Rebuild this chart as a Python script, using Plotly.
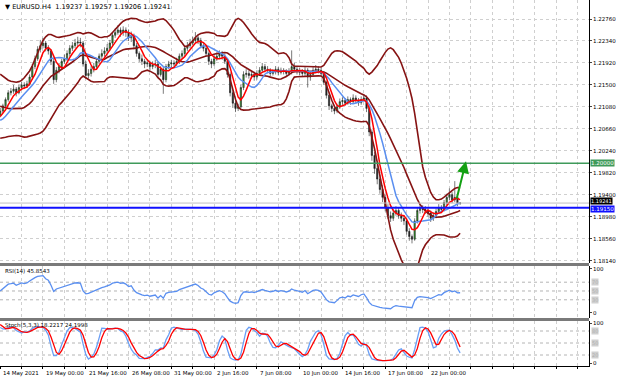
import numpy as np
import pandas as pd
import plotly.graph_objects as go

# ---------------- data (pips above 1.18000) ----------------
BASE = 1.18
PRE_CLOSE = [230, 222, 215, 208, 205, 212, 210, 205, 202, 198, 205, 200,
             202, 212, 232, 250, 262, 258, 262, 268, 280, 320, 338, 345,
             342, 348, 340, 345, 342, 348, 345, 345, 350, 352, 348, 345,
             342, 340, 338, 310, 290, 282, 275, 270, 272, 278, 282, 285,
             288, 292]

CLOSE = [300, 310, 322, 335, 338, 342, 335, 345, 350, 348,
         352, 365, 385, 400, 418, 425, 430, 420, 415, 395,
         360, 378, 385, 395, 400, 410, 420, 425, 430, 432,
         430, 390, 368, 372, 380, 385, 395, 405, 410, 415,
         420, 430, 445, 450, 455, 450, 455, 450, 440, 445,
         425, 410, 400, 395, 390, 392, 385, 388, 390, 370,
         380, 360, 385, 390, 392, 390, 395, 405, 410, 420,
         425, 430, 435, 440, 435, 425, 420, 410, 395, 390,
         400, 405, 410, 405, 395, 370, 335, 315, 305, 308,
         345, 370, 372, 368, 370, 365, 372, 378, 385, 380,
         378, 372, 375, 380, 374, 378, 376, 372, 375, 385,
         380, 376, 375, 372, 378, 365, 370, 378, 380, 378,
         372, 355, 330, 310, 305, 300, 308, 318, 320, 315,
         322, 318, 325, 320, 316, 322, 325, 305, 260, 215,
         190, 170, 150, 135, 115, 100, 95, 105, 110, 100,
         95, 90, 70, 60, 55, 90, 110, 115, 112, 110,
         105, 95, 100, 108, 115, 112, 125, 135, 140, 130,
         135, 123.7, 124.1]

HIGH = [306, 314, 326, 340, 344, 350, 346, 350, 356, 355,
        358, 370, 390, 406, 424, 436, 440, 434, 426, 418,
        400, 384, 392, 400, 408, 416, 426, 432, 438, 442,
        440, 434, 396, 380, 386, 392, 400, 410, 418, 422,
        428, 436, 450, 458, 464, 460, 462, 460, 456, 452,
        448, 430, 414, 408, 400, 398, 396, 395, 398, 394,
        386, 384, 390, 396, 398, 397, 402, 410, 416, 425,
        432, 438, 442, 451, 446, 440, 430, 424, 414, 400,
        406, 412, 416, 415, 410, 398, 374, 340, 320, 314,
        350, 376, 380, 378, 376, 375, 378, 384, 392, 390,
        386, 382, 380, 386, 384, 383, 382, 380, 382, 416,
        392, 386, 382, 380, 384, 382, 376, 384, 388, 386,
        382, 376, 358, 334, 314, 310, 314, 324, 326, 325,
        328, 326, 332, 330, 325, 328, 332, 330, 310, 265,
        222, 198, 178, 158, 140, 122, 108, 112, 118, 115,
        106, 100, 95, 76, 64, 95, 116, 122, 120, 118,
        114, 110, 106, 114, 122, 120, 130, 142, 152, 145,
        166, 140, 125.7]

LOW = [288, 296, 306, 318, 330, 333, 328, 332, 340, 342,
       344, 348, 360, 380, 396, 412, 420, 414, 408, 388,
       352, 355, 372, 380, 390, 396, 404, 415, 420, 424,
       422, 385, 362, 362, 366, 374, 380, 390, 400, 404,
       410, 415, 425, 440, 446, 442, 444, 442, 434, 432,
       418, 404, 394, 388, 382, 384, 378, 380, 382, 364,
       366, 333, 355, 380, 384, 384, 386, 390, 400, 405,
       415, 420, 426, 430, 428, 420, 414, 404, 388, 382,
       386, 396, 400, 398, 390, 364, 328, 306, 298, 300,
       304, 340, 364, 362, 362, 358, 360, 368, 374, 374,
       372, 366, 368, 370, 368, 370, 370, 366, 368, 370,
       374, 370, 368, 365, 366, 345, 358, 366, 372, 372,
       366, 350, 324, 302, 298, 294, 296, 304, 312, 310,
       312, 312, 314, 314, 310, 312, 318, 298, 252, 205,
       180, 160, 142, 126, 108, 94, 88, 90, 100, 94,
       88, 82, 64, 52, 47, 52, 85, 104, 105, 103,
       98, 88, 90, 95, 104, 106, 108, 120, 130, 124,
       126, 118, 120.6]

PRICE_TICKS = [1.18140, 1.18560, 1.18980, 1.19400, 1.19820, 1.20240,
               1.20660, 1.21080, 1.21500, 1.21920, 1.22340, 1.22760]
X_LABEL_IDX = [0, 16, 32, 48, 64, 80, 96, 112, 128, 144, 160]
X_LABELS = ["14 May 2021", "19 May 00:00", "21 May 16:00", "26 May 08:00",
            "31 May 00:00", "2 Jun 16:00", "7 Jun 08:00", "10 Jun 00:00",
            "14 Jun 16:00", "17 Jun 08:00", "22 Jun 00:00"]
GREEN_LEVEL = 1.20000
BLUE_LEVEL = 1.19150
BID = 1.19241
ARROW_TAIL = (170.6, 1.1930)
ARROW_HEAD = (174.2, 1.2004)
HEADER = "\u25BC EURUSD.H4  1.19237 1.19257 1.19206 1.19241"
RSI_TEXT = "RSI(14) 45.8543"
STOCH_TEXT = "Stoch(5,3,3) 18.2217 24.1998"

# ---------------- series ----------------
npre = len(PRE_CLOSE)
idx = np.arange(-npre, len(CLOSE))
c = pd.Series(PRE_CLOSE + CLOSE, dtype=float) / 1e4 + BASE
h = pd.Series(PRE_CLOSE + HIGH, dtype=float) / 1e4 + BASE
l = pd.Series(PRE_CLOSE + LOW, dtype=float) / 1e4 + BASE
o = c.shift(1).bfill()

ma_fast = c.rolling(5).mean()
ma_slow = c.rolling(10).mean()
m20 = c.rolling(20).mean(); s20 = c.rolling(20).std(ddof=0)

d = c.diff()
gain = d.clip(lower=0).ewm(alpha=1/14, adjust=False).mean()
loss = (-d.clip(upper=0)).ewm(alpha=1/14, adjust=False).mean()
rsi = 100 - 100 / (1 + gain / loss)

ll = l.rolling(5).min(); hh = h.rolling(5).max()
k = 100 * (c - ll).rolling(3).sum() / (hh - ll).rolling(3).sum()
dsig = k.rolling(3).mean()

vis = idx >= 0
X = idx[vis]

FONT = "DejaVu Sans"
fig = go.Figure()

DR = "#861313"
for ser in [m20 + 2 * s20, m20, m20 - 2 * s20]:
    fig.add_trace(go.Scatter(x=X, y=ser[vis], mode="lines",
                             line=dict(color=DR, width=1.6), hoverinfo="skip"))

fig.add_trace(go.Candlestick(x=X, open=o[vis], high=h[vis], low=l[vis], close=c[vis],
                             increasing=dict(line=dict(color="#222222", width=0.6), fillcolor="#33a02c"),
                             decreasing=dict(line=dict(color="#222222", width=0.6), fillcolor="#222222"),
                             whiskerwidth=0, hoverinfo="skip"))
fig.add_trace(go.Scatter(x=X, y=ma_slow[vis], mode="lines",
                         line=dict(color="#5a8ff0", width=1.5), hoverinfo="skip"))
fig.add_trace(go.Scatter(x=X, y=ma_fast[vis], mode="lines",
                         line=dict(color="#ff0000", width=1.5), hoverinfo="skip"))

fig.add_trace(go.Scatter(x=X, y=rsi[vis], mode="lines", xaxis="x2", yaxis="y2",
                         line=dict(color="#5a8ff0", width=1.3), hoverinfo="skip"))
fig.add_trace(go.Scatter(x=X, y=k[vis], mode="lines", xaxis="x3", yaxis="y3",
                         line=dict(color="#6a9ff5", width=1.3), hoverinfo="skip"))
fig.add_trace(go.Scatter(x=X, y=dsig[vis], mode="lines", xaxis="x3", yaxis="y3",
                         line=dict(color="#ff0000", width=1.3), hoverinfo="skip"))

W, H = 620, 382
def py(p):
    return 1 - p / H

XR = [-0.075, 220.2]
XDOM = [0, 589 / W]
GRID = "#cfcfcf"
xcommon = dict(range=XR, domain=XDOM, showticklabels=False, zeroline=False,
               tickmode="array", tickvals=list(range(0, 221, 8)),
               showgrid=True, gridcolor=GRID, griddash="dot", gridwidth=1,
               rangeslider=dict(visible=False), fixedrange=True)
YMAIN = [1.18095, 1.231233]
tickfont = dict(family=FONT, size=5.5, color="#000000")

fig.update_layout(
    width=W, height=H, margin=dict(l=0, r=0, t=0, b=0, autoexpand=False),
    paper_bgcolor="white", plot_bgcolor="white", showlegend=False,
    xaxis=dict(**xcommon, anchor="y"),
    xaxis2=dict(**xcommon, anchor="y2", matches="x"),
    xaxis3=dict(**xcommon, anchor="y3", matches="x", showline=True,
                linecolor="#000000", linewidth=1, ticks="outside", ticklen=2,
                tickcolor="#000000"),
    yaxis=dict(domain=[py(263), py(0)], range=YMAIN, side="right", anchor="x",
               tickmode="array", tickvals=PRICE_TICKS,
               ticktext=[f"{v:.5f}" for v in PRICE_TICKS], tickfont=tickfont,
               ticks="outside", ticklen=2, showline=True, linecolor="#000000",
               linewidth=1, showgrid=True, gridcolor=GRID, griddash="dot",
               zeroline=False, fixedrange=True),
    yaxis2=dict(domain=[py(318), py(266)], range=[-11.4, 106.8], side="right",
                anchor="x2", tickmode="array", tickvals=[0, 100],
                ticktext=["0", "100"], tickfont=tickfont, ticks="outside",
                ticklen=2, showline=True, linecolor="#000000", linewidth=1,
                showgrid=False, zeroline=False, fixedrange=True),
    yaxis3=dict(domain=[py(366), py(321)], range=[-7.5, 105], side="right",
                anchor="x3", tickmode="array", tickvals=[0, 100],
                ticktext=["0", "100"], tickfont=tickfont, ticks="outside",
                ticklen=2, showline=True, linecolor="#000000", linewidth=1,
                showgrid=False, zeroline=False, fixedrange=True),
)

shapes = []
for lv in [30, 50, 70]:
    shapes.append(dict(type="line", xref="x2", yref="y2", x0=XR[0], x1=XR[1], y0=lv, y1=lv,
                       line=dict(color="#b4b4b4", width=1, dash="dot"), layer="below"))
for lv in [20, 50, 80]:
    shapes.append(dict(type="line", xref="x3", yref="y3", x0=XR[0], x1=XR[1], y0=lv, y1=lv,
                       line=dict(color="#b4b4b4", width=1, dash="dot"), layer="below"))
shapes.append(dict(type="line", xref="x", yref="y", x0=XR[0], x1=XR[1], y0=BID, y1=BID,
                   line=dict(color="#c0c0c0", width=1)))
shapes.append(dict(type="line", xref="x", yref="y", x0=XR[0], x1=XR[1], y0=GREEN_LEVEL, y1=GREEN_LEVEL,
                   line=dict(color="#3f9a5a", width=1.5)))
shapes.append(dict(type="line", xref="x", yref="y", x0=XR[0], x1=XR[1], y0=BLUE_LEVEL, y1=BLUE_LEVEL,
                   line=dict(color="#1010ff", width=2)))
for p in [264.5, 319.5]:
    shapes.append(dict(type="line", xref="paper", yref="paper", x0=0, x1=XDOM[1],
                       y0=py(p), y1=py(p), line=dict(color="#7a7a7a", width=3)))
fig.update_layout(shapes=shapes)

ann = []
small = dict(family=FONT, size=5.5, color="#000000")
for i, t in zip(X_LABEL_IDX, X_LABELS):
    ann.append(dict(x=i, xref="x3", y=py(373), yref="paper", text=t, showarrow=False,
                    xanchor="left", yanchor="middle", xshift=1, font=small))
ann.append(dict(x=3 / W, xref="paper", y=py(7), yref="paper", text=HEADER, showarrow=False,
                xanchor="left", yanchor="middle", font=dict(family=FONT, size=6.6, color="#000")))
ann.append(dict(x=3 / W, xref="paper", y=py(271), yref="paper", text=RSI_TEXT, showarrow=False,
                xanchor="left", yanchor="middle", font=small))
ann.append(dict(x=3 / W, xref="paper", y=py(325), yref="paper", text=STOCH_TEXT, showarrow=False,
                xanchor="left", yanchor="middle", font=small))
for lv in [70, 50, 30]:
    ann.append(dict(x=591 / W, xref="paper", y=lv, yref="y2", text=str(lv), showarrow=False,
                    xanchor="left", yanchor="middle", bgcolor="#d0d0d0", borderpad=0,
                    font=dict(family=FONT, size=5, color="#b0b0b0")))
for lv in [80, 50, 20]:
    ann.append(dict(x=591 / W, xref="paper", y=lv, yref="y3", text=str(lv), showarrow=False,
                    xanchor="left", yanchor="middle", bgcolor="#d0d0d0", borderpad=0,
                    font=dict(family=FONT, size=5, color="#b0b0b0")))
ann.append(dict(x=590 / W, xref="paper", y=BID, yref="y", text=f"{BID:.5f}", showarrow=False,
                xanchor="left", yanchor="middle", bgcolor="#000000", borderpad=0, yshift=2,
                font=dict(family=FONT, size=5, color="#ffffff")))
ann.append(dict(x=590 / W, xref="paper", y=BLUE_LEVEL, yref="y", text=f"{BLUE_LEVEL:.5f}", showarrow=False,
                xanchor="left", yanchor="middle", bgcolor="#1010ff", borderpad=0, yshift=-1,
                font=dict(family=FONT, size=5.5, color="#ffffff")))
ann.append(dict(x=590 / W, xref="paper", y=GREEN_LEVEL, yref="y", text=f"{GREEN_LEVEL:.5f}", showarrow=False,
                xanchor="left", yanchor="middle", bgcolor="#3f9a5a", borderpad=0,
                font=dict(family=FONT, size=5.5, color="#ffffff")))
ann.append(dict(x=ARROW_HEAD[0], y=ARROW_HEAD[1], xref="x", yref="y",
                ax=ARROW_TAIL[0], ay=ARROW_TAIL[1], axref="x", ayref="y",
                showarrow=True, arrowhead=2, arrowsize=1.2, arrowwidth=2,
                arrowcolor="#12a012", text=""))
fig.update_layout(annotations=ann)

fig.write_html("out.html", config={"displayModeBar": False, "staticPlot": True},
               post_script="document.body.style.margin='0';document.body.style.overflow='hidden';")
